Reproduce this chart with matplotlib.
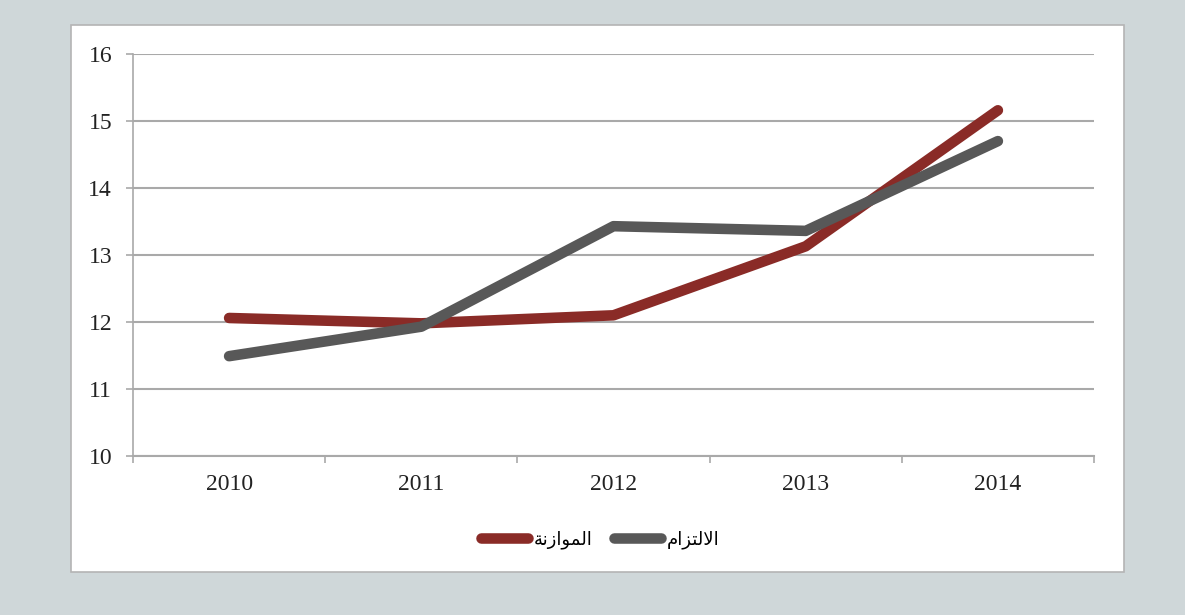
import matplotlib
matplotlib.use("Agg")
import matplotlib.pyplot as plt
from matplotlib.patches import Rectangle

years = ["2010", "2011", "2012", "2013", "2014"]
budget = [12.06, 11.98, 12.10, 13.13, 15.16]      # الموازنة
commitment = [11.49, 11.93, 13.43, 13.36, 14.70]  # الالتزام
yticks = [10, 11, 12, 13, 14, 15, 16]

# matplotlib has no arabic shaping, so labels are given as presentation forms in visual order
label_budget = "\ufe94\ufee7\ufeaf\ufe8d\ufeee\ufee4\ufedf\ufe8d"       # الموازنة
label_commit = "\ufee1\ufe8d\ufeb0\ufe98\ufedf\ufefb\ufe8d"             # الالتزام

bg = "#cfd7d9"
red = "#8a2b27"
dark = "#585858"
grid = "#a9a9a9"

fig = plt.figure(figsize=(11.85, 6.15), dpi=100, facecolor=bg)
W, H = 1185, 615

# white card behind the chart
fig.patches.append(Rectangle((71 / W, 1 - 572 / H), (1124 - 71) / W, (572 - 25) / H,
                             transform=fig.transFigure, facecolor="white",
                             edgecolor="#b4b4b4", linewidth=1.2, zorder=-1))

ax = fig.add_axes([133 / W, 1 - 456 / H, (1094 - 133) / W, (456 - 54) / H])
ax.set_zorder(1)
ax.set_facecolor("white")

x = list(range(len(years)))
ax.plot(x, budget, color=red, lw=7.6, solid_capstyle="round", solid_joinstyle="round",
        label=label_budget, zorder=3)
ax.plot(x, commitment, color=dark, lw=7.6, solid_capstyle="round", solid_joinstyle="round",
        label=label_commit, zorder=3)

ax.set_xlim(-0.5, 4.5)
ax.set_ylim(10, 16)
ax.set_yticks(yticks)
ax.set_yticklabels([str(v) for v in yticks], fontfamily="Liberation Serif", fontsize=17,
                   color="#222222")
ax.set_xticks(x)
ax.set_xticklabels(years, fontfamily="Liberation Serif", fontsize=17, color="#222222")
ax.set_xticks([i - 0.5 for i in range(len(years) + 1)], minor=True)
ax.tick_params(axis="x", which="major", length=0, pad=13)
ax.tick_params(axis="x", which="minor", length=5, color=grid, width=1.2)
ax.tick_params(axis="y", length=5, color=grid, width=1.2, pad=10)
ax.yaxis.grid(True, color=grid, lw=1.5)
ax.set_axisbelow(True)
for s in ["top", "right"]:
    ax.spines[s].set_visible(False)
ax.spines["left"].set_color(grid)
ax.spines["bottom"].set_color(grid)
ax.spines["left"].set_linewidth(1.2)
ax.spines["bottom"].set_linewidth(1.5)

leg = fig.legend(loc="center", bbox_to_anchor=(600 / W, 1 - 540 / H), ncol=2, frameon=False,
                 prop={"family": "DejaVu Sans", "size": 13}, handlelength=2.6,
                 handletextpad=0.3, columnspacing=1.2)

fig.savefig("out.png", dpi=100, facecolor=bg)
